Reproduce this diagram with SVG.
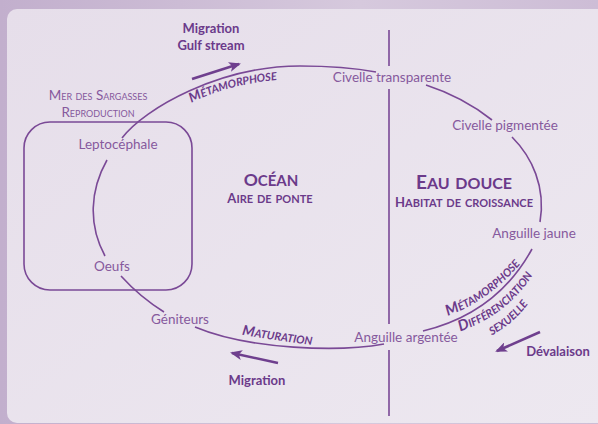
<svg xmlns="http://www.w3.org/2000/svg" width="598" height="424" viewBox="0 0 598 424">
<defs>
<linearGradient id="frame" x1="0" y1="0" x2="1" y2="0">
<stop offset="0" stop-color="#c2afcd"/>
<stop offset="0.6" stop-color="#d6c9dd"/>
<stop offset="1" stop-color="#cdbdd6"/>
</linearGradient>
<linearGradient id="card" x1="0" y1="0" x2="1" y2="1">
<stop offset="0" stop-color="#e6deea"/>
<stop offset="1" stop-color="#ede8f0"/>
</linearGradient>
<marker id="ah" viewBox="0 0 12 10" refX="10" refY="5" markerWidth="12" markerHeight="10" markerUnits="userSpaceOnUse" orient="auto">
<path d="M0,0 L12,5 L0,10 L3,5 Z" fill="#6f3f8e"/>
</marker>
<path id="tpTop" d="M 182,108 C 205,94 240,82 288,79"/>
<path id="tpMat" d="M 232,333 Q 276,341 322,346"/>
<path id="tpM2" d="M 436,320 Q 492,303 528,254"/>
<path id="tpD" d="M 446,336 Q 512,318 540,262"/>
<path id="tpS" d="M 484,339 Q 514,326 533,297"/>
</defs>
<style>
.lbl{font-family:Lato,"Open Sans",sans-serif;font-size:13.5px;fill:#86599d;text-anchor:middle}
.hd{font-family:Lato,"Open Sans",sans-serif;font-weight:bold;fill:#6b3a8a;text-anchor:middle}
.sc{font-variant:small-caps}
.it{font-family:Lato,"Open Sans",sans-serif;font-weight:bold;font-style:italic;font-variant:small-caps;font-size:15px;fill:#6b3a8a}
.ln{fill:none;stroke:#7a4996;stroke-width:1.6}
.arr{fill:none;stroke:#6f3f8e;stroke-width:2.6;marker-end:url(#ah)}
</style>
<rect x="0" y="0" width="598" height="424" fill="url(#frame)"/>
<rect x="7" y="9" width="600" height="414" rx="10" fill="url(#card)"/>

<g id="divider">
<path class="ln" d="M389,30 V66 M389,89 V324 M389,350 V416" stroke-width="1.4"/>
</g>

<g id="sargasses-box">
<rect x="24" y="122" width="168" height="168" rx="26" class="ln"/>
<text class="lbl sc" x="98" y="100" font-size="16.5"><tspan font-size="13.5">M</tspan>er des <tspan font-size="13.5">S</tspan>argasses</text>
<text class="lbl sc" x="98" y="117" font-size="16.5"><tspan font-size="13.5">R</tspan>eproduction</text>
</g>

<g id="connectors">
<path class="ln" d="M 122,138 C 145,108 220,66 300,66 C 335,66 360,69 376,72"/>
<path class="ln" d="M 426,85 Q 463,97 492,120"/>
<path class="ln" d="M 512,137 C 532,157 546,187 540,222"/>
<path class="ln" d="M 532,249 Q 497,313 423,331"/>
<path class="ln" d="M 384,344 C 340,352 250,350 195,327"/>
<path class="ln" d="M 164,312 Q 140,297 121,276"/>
<path class="ln" d="M 105,256 C 88,225 90,190 107,160"/>
</g>

<g id="arrows">
<path class="arr" d="M 192,79 L 239,64"/>
<path class="arr" d="M 278,363 L 232,353"/>
<path class="arr" d="M 540,332 L 497,351"/>
</g>

<g id="leptocephale"><text class="lbl" x="118" y="149">Leptocéphale</text></g>
<g id="oeufs"><text class="lbl" x="112" y="271">Oeufs</text></g>
<g id="geniteurs"><text class="lbl" x="180" y="324">Géniteurs</text></g>
<g id="civelle-transparente"><text class="lbl" x="392" y="82">Civelle transparente</text></g>
<g id="civelle-pigmentee"><text class="lbl" x="505" y="130">Civelle pigmentée</text></g>
<g id="anguille-jaune"><text class="lbl" x="534" y="238">Anguille jaune</text></g>
<g id="anguille-argentee"><text class="lbl" x="406" y="342">Anguille argentée</text></g>

<g id="ocean">
<text class="hd sc" x="271" y="186" font-size="21.5"><tspan font-size="17.5">O</tspan>céan</text>
<text class="hd sc" x="270" y="203" font-size="16"><tspan font-size="13">A</tspan>ire de ponte</text>
</g>
<g id="eau-douce">
<text class="hd sc" x="464" y="189" font-size="23.5"><tspan font-size="19">E</tspan>au douce</text>
<text class="hd sc" x="464" y="207" font-size="16"><tspan font-size="13">H</tspan>abitat de croissance</text>
</g>

<g id="labels">
<text class="hd" x="211" y="33" font-size="13">Migration</text>
<text class="hd" x="211" y="50" font-size="13">Gulf stream</text>
<text class="hd" x="257" y="385" font-size="13">Migration</text>
<text class="hd" x="558" y="356" font-size="13">Dévalaison</text>
<text class="it" font-size="16.5"><textPath href="#tpTop" startOffset="50%" text-anchor="middle"><tspan font-size="13.5">M</tspan>étamorphose</textPath></text>
<text class="it" font-size="17"><textPath href="#tpMat" startOffset="50%" text-anchor="middle"><tspan font-size="14">M</tspan>aturation</textPath></text>
<text class="it" font-size="15"><textPath href="#tpM2" startOffset="50%" text-anchor="middle">Métamorphose</textPath></text>
<text class="it" font-size="15"><textPath href="#tpD" startOffset="50%" text-anchor="middle">Différenciation</textPath></text>
<text class="it" font-size="15"><textPath href="#tpS" startOffset="50%" text-anchor="middle">sexuelle</textPath></text>
</g>
</svg>
